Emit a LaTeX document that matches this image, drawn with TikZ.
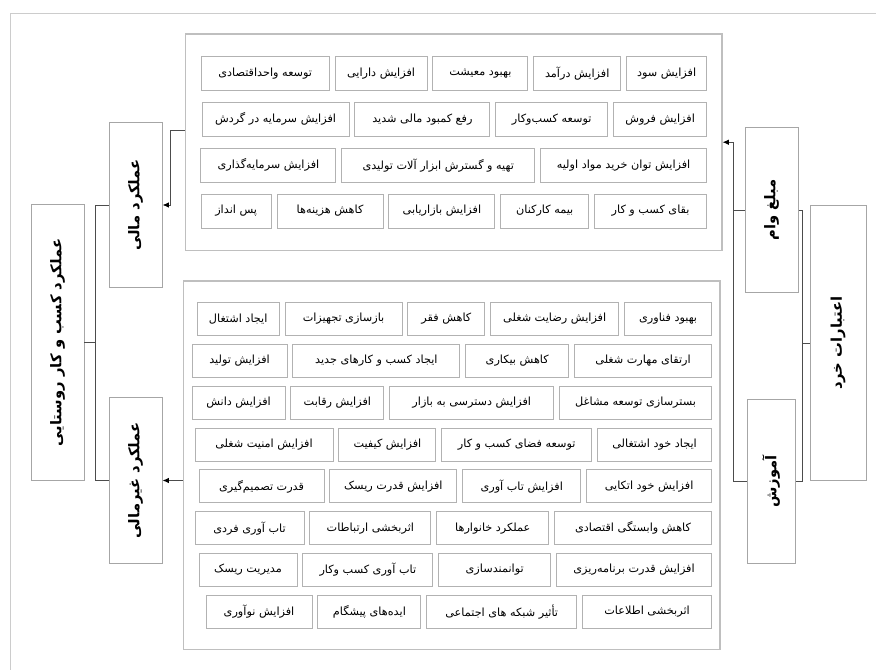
\documentclass[tikz,border=0pt]{standalone}
\usepackage{fontspec}
\usepackage{graphicx}
\newfontfamily\arabicfont[Script=Arabic]{DejaVu Sans}
\TeXXeTstate=1
\usetikzlibrary{positioning, fit, arrows.meta}
\newcommand\fatext[1]{{\arabicfont\beginR #1\endR}}
\tikzset{
  item/.style={draw=gray!60, line width=0.6pt, inner xsep=1pt, inner ysep=0pt, minimum height=0.85cm, font=\fontsize{8}{9}\selectfont},
  wd/.style={minimum width=#1*0.025cm},
  panel/.style={draw=gray!50, line width=0.8pt},
  factor/.style={draw=gray!70, line width=0.7pt, inner sep=0pt, font=\fontsize{10.5}{12}\selectfont\bfseries},
  link/.style={draw=gray!60!black, line width=0.7pt},
  linkarrow/.style={link, -{Latex[length=1.6mm, width=1.4mm, black]}}
}

\begin{document}
\begin{tikzpicture}[x=0.025cm, y=0.025cm, node distance=0.125cm]
\useasboundingbox (0,0) rectangle (876,-670);
\draw[gray!40, line width=0.6pt] (10,-670) -- (10,-13) -- (876,-13);

% financial items
\node[item, wd=80, anchor=north east] (profit) at (707,-56) {\fatext{افزایش سود}};
\node[item, wd=87, left=of profit] (income) {\fatext{افزایش درآمد}};
\node[item, wd=95, left=of income] (livelihood) {\fatext{بهبود معیشت}};
\node[item, wd=92, left=of livelihood] (assets) {\fatext{افزایش دارایی}};
\node[item, wd=128, left=of assets] (unitdev) {\fatext{توسعه واحداقتصادی}};

\node[item, wd=93, below=0.275cm of profit.south east, anchor=north east] (sales) {\fatext{افزایش فروش}};
\node[item, wd=112, left=of sales] (bizdev) {\fatext{توسعه کسب‌وکار}};
\node[item, wd=135, left=of bizdev] (shortage) {\fatext{رفع کمبود مالی شدید}};
\node[item, wd=147, left=of shortage] (capital) {\fatext{افزایش سرمایه در گردش}};

\node[item, wd=166, below=0.275cm of sales.south east, anchor=north east] (purchase) {\fatext{افزایش توان خرید مواد اولیه}};
\node[item, wd=193, left=of purchase] (tools) {\fatext{تهیه و گسترش ابزار آلات تولیدی}};
\node[item, wd=135, left=of tools] (invest) {\fatext{افزایش سرمایه‌گذاری}};

\node[item, wd=112, below=0.275cm of purchase.south east, anchor=north east] (survival) {\fatext{بقای کسب و کار}};
\node[item, wd=88, left=of survival] (insurance) {\fatext{بیمه کارکنان}};
\node[item, wd=106, left=of insurance] (marketing) {\fatext{افزایش بازاریابی}};
\node[item, wd=106, left=of marketing] (costs) {\fatext{کاهش هزینه‌ها}};
\node[item, wd=70, left=of costs] (savings) {\fatext{پس انداز}};

\node[panel, fit=(profit)(unitdev)(invest)(savings), inner xsep=0.375cm, inner ysep=0.55cm] (upper) {};

% non-financial items
\begin{scope}[item/.append style={minimum height=0.825cm}]
\node[item, wd=87, anchor=north east] (tech) at (712,-302) {\fatext{بهبود فناوری}};
\node[item, wd=128, left=of tech] (satisfaction) {\fatext{افزایش رضایت شغلی}};
\node[item, wd=77, left=of satisfaction] (poverty) {\fatext{کاهش فقر}};
\node[item, wd=117, left=of poverty] (equip) {\fatext{بازسازی تجهیزات}};
\node[item, wd=82, left=of equip] (employ) {\fatext{ایجاد اشتغال}};

\node[item, wd=137, below=0.2cm of tech.south east, anchor=north east] (skill) {\fatext{ارتقای مهارت شغلی}};
\node[item, wd=103, left=of skill] (unemploy) {\fatext{کاهش بیکاری}};
\node[item, wd=167, left=of unemploy] (newbiz) {\fatext{ایجاد کسب و کارهای جدید}};
\node[item, wd=95, left=of newbiz] (production) {\fatext{افزایش تولید}};

\node[item, wd=152, below=0.2cm of skill.south east, anchor=north east] (platform) {\fatext{بسترسازی توسعه مشاغل}};
\node[item, wd=164, left=of platform] (access) {\fatext{افزایش دسترسی به بازار}};
\node[item, wd=93, left=of access] (compete) {\fatext{افزایش رقابت}};
\node[item, wd=93, left=of compete] (knowledge) {\fatext{افزایش دانش}};

\node[item, wd=114, below=0.2cm of platform.south east, anchor=north east] (selfemp) {\fatext{ایجاد خود اشتغالی}};
\node[item, wd=150, left=of selfemp] (bizspace) {\fatext{توسعه فضای کسب و کار}};
\node[item, wd=97, left=of bizspace] (quality) {\fatext{افزایش کیفیت}};
\node[item, wd=138, left=of quality] (jobsec) {\fatext{افزایش امنیت شغلی}};

\node[item, wd=125, below=0.2cm of selfemp.south east, anchor=north east] (reliance) {\fatext{افزایش خود اتکایی}};
\node[item, wd=118, left=of reliance] (resil) {\fatext{افزایش تاب آوری}};
\node[item, wd=127, left=of resil] (risk) {\fatext{افزایش قدرت ریسک}};
\node[item, wd=125, left=of risk] (decision) {\fatext{قدرت تصمیم‌گیری}};

\node[item, wd=157, below=0.2cm of reliance.south east, anchor=north east] (depend) {\fatext{کاهش وابستگی اقتصادی}};
\node[item, wd=112, left=of depend] (household) {\fatext{عملکرد خانوارها}};
\node[item, wd=121, left=of household] (comm) {\fatext{اثربخشی ارتباطات}};
\node[item, wd=109, left=of comm] (indresil) {\fatext{تاب آوری فردی}};

\node[item, wd=155, below=0.2cm of depend.south east, anchor=north east] (planning) {\fatext{افزایش قدرت برنامه‌ریزی}};
\node[item, wd=112, left=of planning] (empower) {\fatext{توانمندسازی}};
\node[item, wd=130, left=of empower] (bizresil) {\fatext{تاب آوری کسب وکار}};
\node[item, wd=98, left=of bizresil] (riskmgmt) {\fatext{مدیریت ریسک}};

\node[item, wd=129, below=0.2cm of planning.south east, anchor=north east] (info) {\fatext{اثربخشی اطلاعات}};
\node[item, wd=150, left=of info] (network) {\fatext{تأثیر شبکه های اجتماعی}};
\node[item, wd=103, left=of network] (ideas) {\fatext{ایده‌های پیشگام}};
\node[item, wd=106, left=of ideas] (innovation) {\fatext{افزایش نوآوری}};
\end{scope}

\node[panel, fit=(tech)(production)(knowledge)(info)(innovation), inner xsep=0.2cm, inner ysep=0.525cm] (lower) {};

% factors
\node[factor, minimum width=1.325cm, minimum height=6.875cm] (rural) at (57.5,-342.5) {\rotatebox{90}{\fatext{عملکرد کسب و کار روستایی}}};
\node[factor, minimum width=1.325cm, minimum height=4.1cm] (fin) at (135.5,-205) {\rotatebox{90}{\fatext{عملکرد مالی}}};
\node[factor, minimum width=1.325cm, minimum height=4.125cm] (nonfin) at (135.5,-480.5) {\rotatebox{90}{\fatext{عملکرد غیرمالی}}};
\node[factor, minimum width=1.4cm, minimum height=6.85cm] (credits) at (838,-343) {\rotatebox{90}{\fatext{اعتبارات خرد}}};
\node[factor, minimum width=1.325cm, minimum height=4.1cm] (loan) at (771.5,-210) {\rotatebox{90}{\fatext{مبلغ وام}}};
\node[factor, minimum width=1.2cm, minimum height=4.075cm] (edu) at (771,-481.5) {\rotatebox{90}{\fatext{آموزش}}};

% connectors
\coordinate (ruraljoin) at ([xshift=0.275cm]rural.east);
\draw[link] (rural.east) -- (ruraljoin);
\draw[link] (fin.west) -| (ruraljoin) |- (nonfin.west);
\draw[linkarrow] ([yshift=0.3cm]upper.west) -- ++(-0.35cm,0) |- (fin.east);
\draw[linkarrow] (lower.west |- nonfin.east) -- (nonfin.east);

\coordinate (creditjoin) at ([xshift=-0.175cm]credits.west);
\draw[link] (credits.west) -- (creditjoin);
\draw[link] (loan.east) -| (creditjoin) |- (edu.east);
\coordinate (loanjoin) at ([xshift=-0.275cm]loan.west);
\draw[link] (loan.west) -- (loanjoin);
\draw[linkarrow] (edu.west) -| (upper.east -| loanjoin) -- (upper.east);
\end{tikzpicture}
\end{document}
